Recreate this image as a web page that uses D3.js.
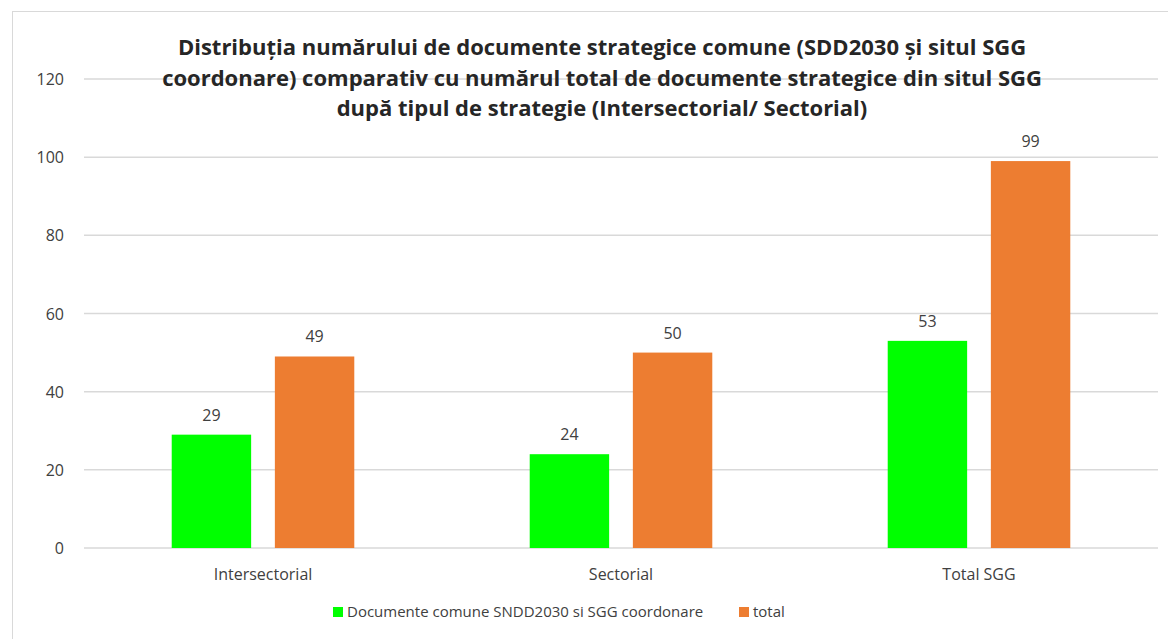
<!DOCTYPE html>
<html>
<head>
<meta charset="utf-8">
<script src="https://cdn.jsdelivr.net/npm/d3@7"></script>
<style>
  body { margin: 0; background: #fff; }
  svg { display: block; font-family: "Liberation Sans Narrow", "Open Sans", sans-serif; }
</style>
</head>
<body>
<svg id="chart" width="1168" height="639"></svg>
<script>
const categories = ["Intersectorial", "Sectorial", "Total SGG"];
const seriesNames = ["Documente comune SNDD2030 si SGG coordonare", "total"];
const comune = [29, 24, 53];
const total = [49, 50, 99];
const yTicks = [0, 20, 40, 60, 80, 100, 120];
const titleLines = [
  "Distribuția numărului de documente strategice comune (SDD2030 și situl SGG",
  "coordonare) comparativ cu numărul total de documente strategice din situl SGG",
  "după tipul de strategie (Intersectorial/ Sectorial)"
];
const colors = ["#00ff00", "#ed7d31"];

const svg = d3.select("#chart");

// chart frame
svg.append("rect")
  .attr("x", 12.5).attr("y", 11.5)
  .attr("width", 1170).attr("height", 640)
  .attr("fill", "#fff").attr("stroke", "#d9d9d9");

const x0 = d3.scaleBand().domain(categories).range([84, 1158]).paddingInner(0.49).paddingOuter(0.245);
const x1 = d3.scaleBand().domain(seriesNames).range([0, x0.bandwidth()]).paddingInner(0.23);
const y = d3.scaleLinear().domain([0, 120]).range([548, 79]);

// gridlines
svg.append("g")
  .selectAll("line")
  .data(yTicks)
  .join("line")
  .attr("x1", 84).attr("x2", 1158)
  .attr("y1", d => y(d)).attr("y2", d => y(d))
  .attr("stroke", "#d9d9d9").attr("stroke-width", 1.5);

// y labels
svg.append("g")
  .selectAll("text")
  .data(yTicks)
  .join("text")
  .attr("x", 64).attr("y", d => y(d) + 6)
  .attr("text-anchor", "end")
  .style("font-size", "16px").style("fill", "#404040")
  .text(d => d);

// x labels
svg.append("g")
  .selectAll("text")
  .data(categories)
  .join("text")
  .attr("x", d => x0(d) + x0.bandwidth() / 2)
  .attr("y", 580)
  .attr("text-anchor", "middle")
  .style("font-size", "16px").style("fill", "#404040")
  .text(d => d);

const rows = categories.map((c, i) => ({ cat: c, vals: [comune[i], total[i]] }));

const groups = svg.append("g")
  .selectAll("g")
  .data(rows)
  .join("g")
  .attr("transform", d => `translate(${x0(d.cat)},0)`);

groups.selectAll("rect")
  .data(d => d.vals.map((v, j) => ({ s: seriesNames[j], v: v, j: j })))
  .join("rect")
  .attr("x", d => x1(d.s))
  .attr("y", d => y(d.v))
  .attr("width", x1.bandwidth())
  .attr("height", d => y(0) - y(d.v))
  .attr("fill", d => colors[d.j]);

groups.selectAll("text")
  .data(d => d.vals.map((v, j) => ({ s: seriesNames[j], v: v })))
  .join("text")
  .attr("x", d => x1(d.s) + x1.bandwidth() / 2)
  .attr("y", d => y(d.v) - 14)
  .attr("text-anchor", "middle")
  .style("font-size", "16px").style("fill", "#404040")
  .text(d => d.v);

// title
svg.append("g")
  .selectAll("text")
  .data(titleLines)
  .join("text")
  .attr("x", 602)
  .attr("y", (d, i) => 55 + i * 30.5)
  .attr("text-anchor", "middle")
  .style("font-size", "22px").style("font-weight", "bold").style("fill", "#262626")
  .text(d => d);

// legend
const legendX = [333, 739];
const legend = svg.append("g")
  .selectAll("g")
  .data(seriesNames)
  .join("g")
  .attr("transform", (d, i) => `translate(${legendX[i]},607)`);
legend.append("rect")
  .attr("width", 10).attr("height", 10)
  .attr("fill", (d, i) => colors[i]);
legend.append("text")
  .attr("x", 14).attr("y", 10)
  .style("font-size", "15px").style("fill", "#404040")
  .text(d => d);
</script>
</body>
</html>
